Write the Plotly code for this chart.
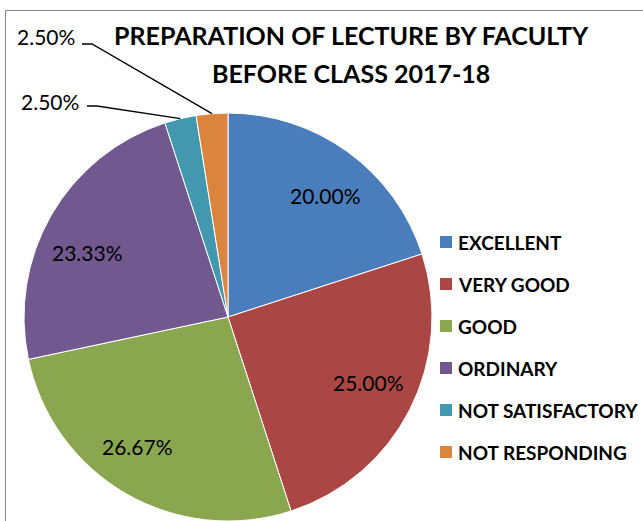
import math
import plotly.graph_objects as go

# ---- data ----
categories = ["EXCELLENT", "VERY GOOD", "GOOD", "ORDINARY", "NOT SATISFACTORY", "NOT RESPONDING"]
percent_values = [20.00, 25.00, 26.67, 23.33, 2.50, 2.50]
colors = ["#4A7DBB", "#AA4744", "#8AA64E", "#71588F", "#4298AF", "#DB843D"]
title_lines = ["PREPARATION OF LECTURE BY FACULTY", "BEFORE CLASS 2017-18"]

W, H = 643, 521
FONT = "Lato, Carlito, Calibri, sans-serif"

# pie geometry (pixels)
dom_x = [23 / W, 433 / W]
dom_y = [0.0, 1 - 113 / H]
cx = (dom_x[0] + dom_x[1]) / 2 * W
r = min((dom_x[1] - dom_x[0]) * W, (dom_y[1] - dom_y[0]) * H) / 2
cy = H - ((dom_y[0] + dom_y[1]) / 2 * H)


def px(x):
    return x / W


def py(y):
    return 1 - y / H


fig = go.Figure(go.Pie(
    labels=categories,
    values=percent_values,
    marker=dict(colors=colors, line=dict(color="white", width=1)),
    sort=False,
    direction="clockwise",
    rotation=0,
    textinfo="none",
    hoverinfo="label+percent",
    domain=dict(x=dom_x, y=dom_y),
    showlegend=False,
))

total = sum(percent_values)
annotations = []
shapes = []

# slice mid angles (degrees clockwise from 12 o'clock)
mids = []
acc = 0.0
for v in percent_values:
    mids.append((acc + v / 2) / total * 360)
    acc += v

# outside label placement for small slices: (text center x, y, elbow x, elbow end x, line y)
outside = {
    5: (46, 36, 92, 82, 44),
    4: (50, 101, 97, 87, 106),
}
# small pixel nudges for inside labels (best-fit placement)
nudges = {0: (6, 4), 1: (2, -5), 2: (-13, -5), 3: (-6, 13)}

for i, (v, m) in enumerate(zip(percent_values, mids)):
    text = f"{v:.2f}%"
    a = math.radians(m)
    if i in outside:
        tx, ty, ex, ee, ly = outside[i]
        sx = cx + r * math.sin(a)
        sy = cy - r * math.cos(a)
        shapes.append(dict(
            type="path", xref="paper", yref="paper",
            path=f"M {px(sx)} {py(sy)} L {px(ex)} {py(ly)} L {px(ee)} {py(ly)}",
            line=dict(color="black", width=1.3),
        ))
        annotations.append(dict(
            x=px(tx), y=py(ty), xref="paper", yref="paper", text=text,
            showarrow=False, font=dict(family=FONT, size=21, color="black"),
            xanchor="center", yanchor="middle",
        ))
    else:
        d = 0.76 * r
        nx, ny = nudges.get(i, (0, 0))
        lx = cx + d * math.sin(a) + nx
        ly = cy - d * math.cos(a) + ny
        annotations.append(dict(
            x=px(lx), y=py(ly), xref="paper", yref="paper", text=text,
            showarrow=False, font=dict(family=FONT, size=21, color="black"),
            xanchor="center", yanchor="middle",
        ))

# title
for line, ty in zip(title_lines, [35, 73]):
    annotations.append(dict(
        x=px(351), y=py(ty), xref="paper", yref="paper", text=f"<b>{line}</b>",
        showarrow=False, font=dict(family=FONT, size=25, color="black"),
        xanchor="center", yanchor="middle",
    ))

# legend (manual)
leg_x0, leg_sq, leg_y0, leg_dy = 440, 12, 242, 42
for i, (cat, col) in enumerate(zip(categories, colors)):
    yc = leg_y0 + i * leg_dy
    shapes.append(dict(
        type="rect", xref="paper", yref="paper",
        x0=px(leg_x0), x1=px(leg_x0 + leg_sq),
        y0=py(yc + leg_sq / 2), y1=py(yc - leg_sq / 2),
        fillcolor=col, line=dict(width=0),
    ))
    annotations.append(dict(
        x=px(leg_x0 + leg_sq + 4), y=py(yc + 0.5), xref="paper", yref="paper",
        text=f"<b>{cat}</b>", showarrow=False,
        font=dict(family=FONT, size=19, color="black"),
        xanchor="left", yanchor="middle",
    ))

# chart border
shapes.append(dict(
    type="rect", xref="paper", yref="paper",
    x0=px(5.5), x1=px(W + 20), y0=py(H + 20), y1=py(10.5),
    line=dict(color="#868686", width=1), fillcolor="rgba(0,0,0,0)",
))

fig.update_layout(
    width=W, height=H,
    margin=dict(l=0, r=0, t=0, b=0),
    paper_bgcolor="white",
    plot_bgcolor="white",
    annotations=annotations,
    shapes=shapes,
)

fig.write_html(
    "out.html",
    config={"displayModeBar": False},
    post_script="document.body.style.margin='0';document.body.style.overflow='hidden';",
)
